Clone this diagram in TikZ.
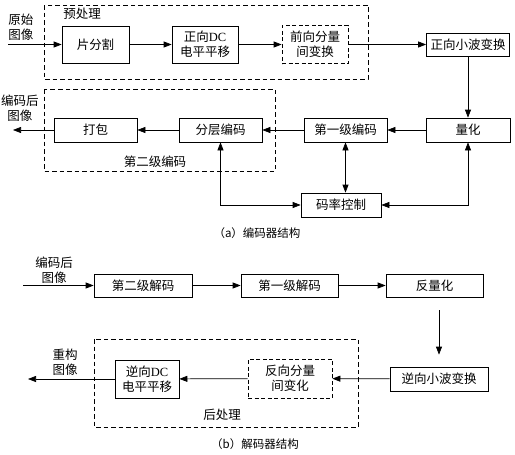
\documentclass[tikz,border=0pt]{standalone}
\usepackage{fontspec}
\setmainfont{Liberation Serif}
\newfontfamily\cjk{Noto Sans CJK SC}
\newfontfamily\latinfont{Liberation Serif}
\usepackage{tikz}
\usetikzlibrary{calc, positioning}
\usetikzlibrary{shapes, arrows, arrows.meta}
\tikzset{
    block/.style = {rectangle, draw, line width=0.7pt, align=center, inner sep=1pt, font=\cjk\fontsize{12.5}{15}\selectfont},
    dblock/.style = {block, dash pattern=on 4pt off 2.5pt},
    group/.style = {draw, line width=0.9pt, dash pattern=on 4.5pt off 3pt},
    flow/.style = {-{Triangle[length=8pt, width=6pt]}, line width=0.7pt},
    twoway/.style = {{Triangle[length=8pt, width=6pt]}-{Triangle[length=8pt, width=6pt]}, line width=0.7pt},
    lbl/.style = {align=center, inner sep=0pt, font=\cjk\fontsize{12.5}{15}\selectfont},
    caption/.style = {inner sep=0pt, font=\cjk\fontsize{11.5}{13}\selectfont},
}

\begin{document}
\begin{tikzpicture}[x=1pt, y=-1pt]
            \useasboundingbox (0,0) rectangle (515,455);
            % encoder
            \begin{scope}[local bounding box=enc]
                \draw[group] (44,5) rectangle (368,79);
                \node[lbl] (prelbl) at (82,14) {预处理};
                \node[block, minimum width=67pt, minimum height=37pt] (split) at (95.5,44.5) {片分割};
                \node[block, minimum width=66pt, minimum height=37pt] (dcshift) at (205,44.5) {正向{\latinfont DC}\\电平平移};
                \node[dblock, minimum width=66pt, minimum height=38pt] (ict) at (315,44.5) {前向分量\\间变换};
                \node[block, minimum width=83pt, minimum height=23pt] (dwt) at (468,44.5) {正向小波变换};
                \node[block, minimum width=84pt, minimum height=24pt] (quant) at (468,130) {量化};
                \node[block, minimum width=83pt, minimum height=24pt] (tier1) at (345.5,130) {第一级编码};
                \node[block, minimum width=83pt, minimum height=24pt] (tier2) at (220.5,130) {分层编码};
                \node[block, minimum width=83pt, minimum height=24pt] (pack) at (95.5,130) {打包};
                \node[block, minimum width=80pt, minimum height=24pt] (rate) at (341,205) {码率控制};
                \draw[group] (44,89) rectangle (275,171);
                \node[lbl] (t2lbl) at (155,162) {第二级编码};

                \coordinate (encin) at (8,44.5);
                \coordinate (encout) at (13,130);
                \node[lbl] (inlbl) at (21,27) {原始\\图像};
                \node[lbl] (outlbl) at (20,108) {编码后\\图像};

                \draw[flow] (encin) -- (split);
                \draw[flow] (split) -- (dcshift);
                \draw[flow] (dcshift) -- (ict);
                \draw[flow] (ict) -- (dwt);
                \draw[flow] (dwt) -- (quant);
                \draw[flow] (quant) -- (tier1);
                \draw[flow] (tier1) -- (tier2);
                \draw[flow] (tier2) -- (pack);
                \draw[flow] (pack) -- (encout);
                \draw[twoway] (tier1.south) -- (tier1.south |- rate.north);
                \draw[twoway] (tier2.south) |- (rate.west);
                \draw[twoway] (quant.south) |- (rate.east);
            \end{scope}
            \node[caption] (capa) at (257,233) {（a）编码器结构};

            % decoder
            \begin{scope}[local bounding box=dec]
                \node[block, minimum width=98pt, minimum height=23pt] (dtier2) at (143,285.5) {第二级解码};
                \node[block, minimum width=97pt, minimum height=23pt] (dtier1) at (289.5,285.5) {第一级解码};
                \node[block, minimum width=97pt, minimum height=23pt] (dequant) at (434.5,285.5) {反量化};
                \node[block, minimum width=98pt, minimum height=24pt] (idwt) at (439,379) {逆向小波变换};
                \draw[group] (94,339) rectangle (358,427);
                \node[lbl] (postlbl) at (222,415) {后处理};
                \node[dblock, minimum width=84pt, minimum height=39pt] (iict) at (290,378.5) {反向分量\\间变化};
                \node[block, minimum width=64pt, minimum height=38pt] (idc) at (147,379) {逆向{\latinfont DC}\\电平平移};

                \coordinate (decin) at (23,285.5);
                \coordinate (decout) at (28,379);
                \node[lbl] (dinlbl) at (54,270) {编码后\\图像};
                \node[lbl] (doutlbl) at (65,362) {重构\\图像};

                \draw[flow] (decin) -- (dtier2);
                \draw[flow] (dtier2) -- (dtier1);
                \draw[flow] (dtier1) -- (dequant);
                \draw[flow, shorten <=13pt, shorten >=12pt] (dequant.south -| idwt.north) -- (idwt.north);
                \draw[flow] (idwt) -- (iict);
                \draw[flow] (iict) -- (idc);
                \draw[flow] (idc) -- (decout);
            \end{scope}
            \node[caption] (capb) at (255,444) {（b）解码器结构};
\end{tikzpicture}
\end{document}
